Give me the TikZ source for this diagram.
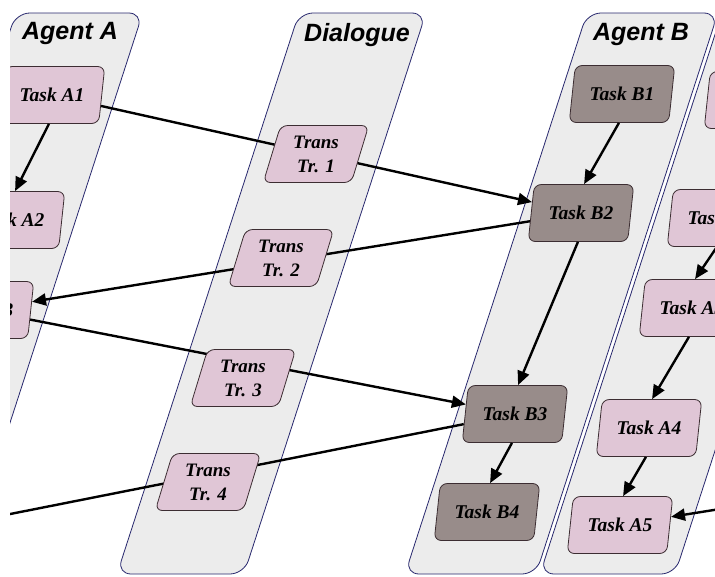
\documentclass[tikz,border=0pt]{standalone}
\usepackage{fontspec}
\setmainfont{Liberation Serif}
\newfontfamily\titlefont{Liberation Sans}
\usetikzlibrary{shapes.geometric,arrows.meta,calc}
\pgfdeclarelayer{lanes}
\pgfdeclarelayer{links}
\pgfsetlayers{lanes,links,main}
\definecolor{lanefill}{RGB}{236,236,236}
\definecolor{laneline}{RGB}{40,40,110}
\definecolor{afill}{RGB}{224,198,214}
\definecolor{bfill}{RGB}{152,140,138}
\definecolor{boxline}{RGB}{60,45,50}
\begin{document}
\begin{tikzpicture}[x=1pt,y=-1pt,
  lane/.style={fill=lanefill,draw=laneline,line width=0.8pt,rounded corners=14pt},
  task/.style={trapezium,trapezium left angle=73,trapezium right angle=107,
    trapezium stretches=true,minimum width=106pt,minimum height=57pt,inner sep=0pt,
    draw=boxline,line width=0.8pt,rounded corners=7pt,
    font=\fontsize{19.5}{22}\selectfont\bfseries\itshape},
  atask/.style={task,fill=afill},
  btask/.style={task,fill=bfill},
  trans/.style={task,fill=afill,align=center,font=\fontsize{19}{24}\selectfont\bfseries\itshape},
  title/.style={font=\fontsize{25}{28}\selectfont\titlefont\bfseries\itshape},
  link/.style={line width=2.4pt,black},
  arr/.style={link,-{Triangle[length=14pt,width=12pt]}}
]
\useasboundingbox (0,0) rectangle (715,576);
\clip (10,0) rectangle (715,576);

\begin{pgfonlayer}{lanes}
  \fill[white] (0,0) rectangle (715,576);
  \clip (10,0) rectangle (715,576);
  \path[lane] (722,13) -- (857,13) -- (675,574) -- (540,574) -- cycle;
  \path[lane] (15.8,13) -- (142.8,13) -- (-39,574) -- (-166,574) -- cycle;
  \path[lane] (299,13) -- (426,13) -- (244,574) -- (117,574) -- cycle;
  \path[lane] (587,13) -- (718,13) -- (536,574) -- (405,574) -- cycle;
\end{pgfonlayer}

% titles
\node[title] (tA) at (70,33) {Agent A};
\node[title] (tD) at (357,35) {Dialogue};
\node[title] (tB) at (641,34) {Agent B};

% Agent A
\node[atask] (a1) at (52,95) {Task A1};
\node[atask] (a2) at (12,220) {Task A2};
\node[atask] (a3) at (-19,310) {Task A3};

% Dialogue
\node[trans] (tr1) at (316,154) {Trans\\Tr. 1};
\node[trans] (tr2) at (281,258) {Trans\\Tr. 2};
\node[trans] (tr3) at (243,378) {Trans\\Tr. 3};
\node[trans] (tr4) at (208,482) {Trans\\Tr. 4};

% Agent B
\node[btask] (b1) at (622,94) {Task B1};
\node[btask] (b2) at (581,213) {Task B2};
\node[btask] (b3) at (515,414) {Task B3};
\node[btask] (b4) at (487,512) {Task B4};

% right lane
\node[atask] (c1) at (757,100) {\phantom{Task A1}};
\node[atask] (c2) at (720,218) {Task A2};
\node[atask] (c3) at (692,308) {Task A3};
\node[atask] (c4) at (649,428) {Task A4};
\node[atask] (c5) at (620,525) {Task A5};

\coordinate (out4) at (-10,518);
\coordinate (inA5) at (745,505);

\begin{pgfonlayer}{links}
  \clip (10,0) rectangle (715,576);
  \draw[arr] (a1) -- (b2);
  \draw[arr] (b2) -- (a3);
  \draw[arr] (a3) -- (b3);
  \draw[link] (b3) -- (out4);
\end{pgfonlayer}

\draw[arr] (inA5) -- (c5);
\draw[arr] (a1.bottom side) -- (a2.top side);
\draw[arr] (b1.bottom side) -- (b2.top side);
\draw[arr] (b2.bottom side) -- (b3.top side);
\draw[arr] (b3.bottom side) -- (b4.top side);
\draw[arr] (c2.bottom side) -- (c3.top side);
\draw[arr] (c3.bottom side) -- (c4.top side);
\draw[arr] (c4.bottom side) -- (c5.top side);
\end{tikzpicture}
\end{document}
